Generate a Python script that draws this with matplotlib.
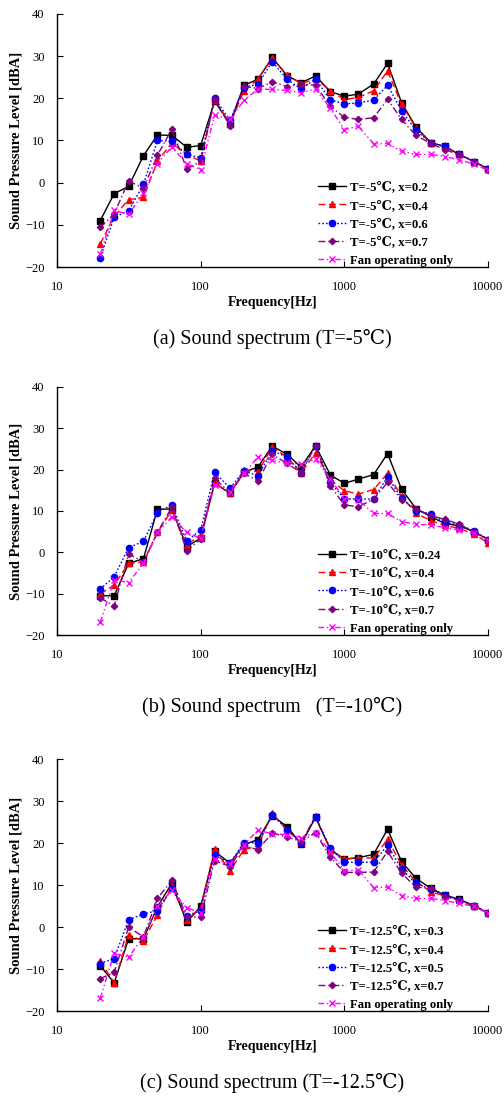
import matplotlib
matplotlib.use("Agg")
import matplotlib.pyplot as plt
from matplotlib.ticker import FixedLocator, FixedFormatter, NullLocator

plt.rcParams['font.family'] = ['Liberation Serif', 'DejaVu Serif', 'Noto Sans CJK JP']
plt.rcParams['mathtext.default'] = 'regular'

# 1/3 octave band centre frequencies
freq = [20, 25, 31.5, 40, 50, 63, 80, 100, 125, 160, 200, 250, 315, 400, 500,
        630, 800, 1000, 1250, 1600, 2000, 2500, 3150, 4000, 5000, 6300, 8000, 10000]

# (a) T=-5C
a_x02 = [-9.0, -2.6, -0.9, 6.4, 11.3, 11.2, 8.4, 8.8, 19.3, 14.0, 23.1, 24.5, 29.7, 25.3,
         23.7, 25.3, 21.6, 20.5, 21.0, 23.4, 28.3, 19.0, 13.2, 9.5, 8.6, 6.7, 5.0, 3.3]
a_x04 = [-14.5, -8.0, -4.0, -3.5, 5.1, 9.4, 6.7, 5.1, 19.6, 14.0, 21.8, 24.5, 29.5, 25.6,
         23.5, 24.6, 21.8, 19.7, 20.2, 21.8, 26.5, 18.6, 13.0, 9.3, 8.6, 6.7, 5.0, 3.2]
a_x06 = [-17.8, -8.2, -6.7, -0.4, 10.0, 9.8, 6.7, 5.9, 20.0, 14.8, 22.5, 23.4, 28.7, 24.5,
         22.2, 24.6, 19.6, 18.7, 18.9, 19.6, 23.1, 17.1, 12.4, 9.4, 8.6, 6.7, 5.0, 3.2]
a_x07 = [-10.6, -7.4, 0.4, -1.3, 6.5, 12.7, 3.2, 5.1, 19.8, 13.4, 22.9, 22.3, 23.9, 22.8,
         23.4, 23.1, 18.1, 15.5, 15.0, 15.4, 19.8, 15.0, 11.2, 9.3, 7.8, 6.7, 5.0, 3.1]
a_fan = [-17.0, -6.6, -7.5, -2.5, 4.5, 8.5, 4.5, 3.1, 16.0, 15.0, 19.5, 22.2, 22.1, 21.9,
         21.3, 22.2, 17.6, 12.6, 13.4, 9.2, 9.3, 7.4, 6.7, 6.7, 6.2, 5.4, 4.4, 2.9]

# (b) T=-10C
b_x024 = [-10.5, -10.5, -2.7, -1.5, 10.4, 10.5, 1.4, 3.4, 16.7, 14.3, 19.4, 20.6, 25.7, 23.7,
          20.6, 25.8, 18.7, 16.7, 17.7, 18.8, 23.9, 15.3, 10.6, 8.6, 7.0, 6.4, 5.0, 3.1]
b_x04 = [-10.1, -7.9, -2.7, -2.3, 4.8, 10.2, 1.8, 4.2, 16.9, 14.3, 19.8, 19.5, 25.4, 23.0,
         19.3, 24.0, 17.5, 14.9, 14.1, 15.2, 19.1, 13.6, 9.4, 7.7, 6.5, 5.8, 4.4, 2.3]
b_x06 = [-8.9, -5.9, 1.1, 2.7, 9.6, 11.5, 2.7, 5.4, 19.4, 15.5, 19.7, 18.5, 24.6, 23.0,
         19.3, 25.8, 16.9, 13.0, 12.9, 12.9, 18.3, 13.1, 10.1, 9.3, 7.3, 6.6, 5.2, 3.1]
b_x07 = [-11.0, -13.0, -0.4, -2.3, 4.8, 10.9, 0.3, 3.3, 17.9, 14.4, 19.1, 17.3, 23.7, 21.5,
         19.3, 25.8, 16.0, 11.5, 11.0, 12.9, 16.9, 12.7, 10.6, 8.8, 8.0, 6.8, 4.9, 3.1]
b_fan = [-16.9, -6.7, -7.3, -2.7, 4.8, 8.6, 4.8, 3.4, 16.3, 14.7, 19.1, 23.0, 22.3, 21.5,
         21.4, 22.5, 17.7, 13.0, 12.7, 9.4, 9.4, 7.4, 6.8, 6.6, 6.0, 5.4, 4.6, 3.0]

# (c) T=-12.5C
c_x03 = [-9.2, -13.3, -2.8, -2.8, 4.8, 10.4, 1.1, 4.9, 18.0, 15.2, 19.6, 20.8, 26.5, 23.9,
         19.7, 26.1, 18.4, 16.2, 16.5, 17.3, 23.3, 15.6, 11.6, 9.2, 7.6, 6.6, 5.1, 3.3]
c_x04 = [-8.1, -13.3, -1.9, -3.3, 2.9, 9.9, 1.7, 4.5, 18.5, 13.4, 18.4, 19.3, 27.1, 23.0,
         20.0, 26.5, 18.4, 16.1, 16.5, 16.4, 20.9, 14.8, 10.8, 8.4, 7.4, 6.4, 5.1, 3.3]
c_x05 = [-8.7, -7.5, 1.7, 3.1, 3.9, 9.2, 2.7, 3.9, 17.1, 15.2, 20.1, 20.0, 26.7, 23.2,
         20.0, 26.2, 18.7, 15.4, 15.4, 15.4, 19.5, 13.8, 10.4, 9.0, 7.6, 6.4, 5.1, 3.3]
c_x07 = [-12.3, -10.8, -0.1, -2.3, 6.8, 11.1, 2.5, 2.3, 15.8, 14.4, 19.3, 18.4, 22.4, 21.4,
         20.4, 22.4, 16.6, 13.0, 13.0, 13.1, 18.0, 12.8, 9.5, 9.2, 7.2, 6.4, 4.9, 3.3]
c_fan = [-16.9, -6.3, -7.2, -2.3, 4.9, 8.7, 4.6, 3.4, 16.1, 15.0, 19.6, 23.0, 22.2, 22.0,
         21.3, 22.5, 17.8, 13.4, 13.6, 9.4, 9.5, 7.5, 6.8, 6.8, 6.3, 5.6, 4.9, 3.3]

styles = [
    dict(color='black', linestyle='-', marker='s', markersize=4.5),
    dict(color='red', linestyle=(0, (5, 2.5)), marker='^', markersize=4.5),
    dict(color='blue', linestyle=(0, (1.2, 1.5)), marker='o', markersize=4.5),
    dict(color='#800080', linestyle=(0, (5, 2, 1, 2)), marker='D', markersize=3.2),
    dict(color='#FF00FF', linestyle=(0, (4, 2, 1, 2, 1, 2)), marker='x', markersize=4.5),
]

panels = [
    ([a_x02, a_x04, a_x06, a_x07, a_fan],
     ['T=-5\u2103, x=0.2', 'T=-5\u2103, x=0.4', 'T=-5\u2103, x=0.6', 'T=-5\u2103, x=0.7',
      'Fan operating only'],
     '(a) Sound spectrum (T=-5\u2103)', 14, 267),
    ([b_x024, b_x04, b_x06, b_x07, b_fan],
     ['T=-10\u2103, x=0.24', 'T=-10\u2103, x=0.4', 'T=-10\u2103, x=0.6', 'T=-10\u2103, x=0.7',
      'Fan operating only'],
     '(b) Sound spectrum   (T=-10\u2103)', 387, 635),
    ([c_x03, c_x04, c_x05, c_x07, c_fan],
     ['T=-12.5\u2103, x=0.3', 'T=-12.5\u2103, x=0.4', 'T=-12.5\u2103, x=0.5', 'T=-12.5\u2103, x=0.7',
      'Fan operating only'],
     '(c) Sound spectrum (T=-12.5\u2103)', 759, 1011),
]

W, H = 504, 1099
fig = plt.figure(figsize=(W / 100, H / 100), dpi=100)

for series, labels, caption, top, bot in panels:
    ax = fig.add_axes([57 / W, 1 - bot / H, (488 - 57) / W, (bot - top) / H])
    for y, lab, st in zip(series, labels, styles):
        ax.plot(freq, y, label=lab, linewidth=1.0, markeredgewidth=1.0, **st)
    ax.set_xscale('log')
    ax.set_xlim(10, 10000)
    ax.set_ylim(-20, 40)
    ax.xaxis.set_major_locator(FixedLocator([10, 100, 1000, 10000]))
    ax.xaxis.set_major_formatter(FixedFormatter(['10', '100', '1000', '10000']))
    ax.xaxis.set_minor_locator(NullLocator())
    ax.set_yticks([-20, -10, 0, 10, 20, 30, 40])
    ax.spines['top'].set_visible(False)
    ax.spines['right'].set_visible(False)
    ax.spines['left'].set_linewidth(1.0)
    ax.spines['bottom'].set_linewidth(1.0)
    ax.tick_params(axis='x', direction='in', length=4, pad=10, labelsize=9)
    ax.tick_params(axis='y', direction='in', length=4, pad=9, labelsize=9)
    ax.set_xlabel('Frequency[Hz]', fontsize=10, fontweight='bold', labelpad=2)
    ax.set_ylabel('Sound Pressure Level [dBA]', fontsize=10.5, fontweight='bold', labelpad=2)
    ax.legend(loc='lower right', bbox_to_anchor=(0.945, -0.045), frameon=False,
              prop={'size': 9.2, 'weight': 'bold'}, handlelength=2.2,
              handletextpad=0.3, labelspacing=0.5)
    fig.text(0.5 * (57 + 488) / W, 1 - (bot + 72) / H, caption, ha='center',
             va='center', fontsize=14.5)

fig.savefig('out.png', dpi=100)
